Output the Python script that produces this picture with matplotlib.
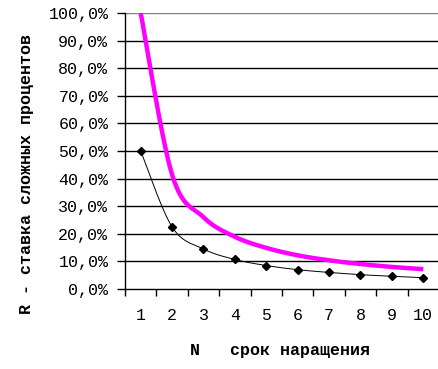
import numpy as np
import matplotlib
matplotlib.use("Agg")
import matplotlib.pyplot as plt
from matplotlib.ticker import FuncFormatter, FixedLocator

# Data
n_values = [1, 2, 3, 4, 5, 6, 7, 8, 9, 10]
rate_black = [50.0, 22.5, 14.5, 10.7, 8.5, 7.0, 6.0, 5.2, 4.6, 4.1]
rate_magenta = [100.0, 41.4, 26.0, 18.9, 14.9, 12.2, 10.4, 9.05, 8.0, 7.2]
y_ticks = [0, 10, 20, 30, 40, 50, 60, 70, 80, 90, 100]


def smooth(x, y, steps=30):
    x = np.asarray(x, float)
    y = np.asarray(y, float)
    xs, ys = [], []
    n = len(x)
    for i in range(n - 1):
        p0 = (x[i - 1], y[i - 1]) if i > 0 else (x[i], y[i])
        p1 = (x[i], y[i])
        p2 = (x[i + 1], y[i + 1])
        p3 = (x[i + 2], y[i + 2]) if i + 2 < n else (x[i + 1], y[i + 1])
        c1 = (p1[0] + (p2[0] - p0[0]) / 6, p1[1] + (p2[1] - p0[1]) / 6)
        c2 = (p2[0] - (p3[0] - p1[0]) / 6, p2[1] - (p3[1] - p1[1]) / 6)
        t = np.linspace(0, 1, steps)
        bx = (1 - t) ** 3 * p1[0] + 3 * (1 - t) ** 2 * t * c1[0] + 3 * (1 - t) * t ** 2 * c2[0] + t ** 3 * p2[0]
        by = (1 - t) ** 3 * p1[1] + 3 * (1 - t) ** 2 * t * c1[1] + 3 * (1 - t) * t ** 2 * c2[1] + t ** 3 * p2[1]
        xs.extend(bx)
        ys.extend(by)
    return np.array(xs), np.array(ys)


fig = plt.figure(figsize=(4.39, 3.69), dpi=100)
ax = fig.add_axes([125 / 439, 1 - 289 / 369, 1 - 125 / 439, (289 - 13) / 369])

mono = "Liberation Mono"

ax.set_xlim(0.5, 10.5)
ax.set_ylim(0, 100)

for v in y_ticks[1:]:
    ax.axhline(v, color="#808080" if v == 100 else "black", lw=1.0, zorder=1)

xs, ys = smooth(n_values, rate_magenta)
ax.plot(xs, ys, color="#FF00FF", lw=3.2, zorder=3, solid_capstyle="butt")
xs, ys = smooth(n_values, rate_black)
ax.plot(xs, ys, color="black", lw=0.7, zorder=4)
ax.plot(n_values, rate_black, ls="none", marker="D", ms=4.5, color="black", zorder=5)

ax.yaxis.set_major_locator(FixedLocator(y_ticks))
ax.yaxis.set_major_formatter(FuncFormatter(lambda v, p: f"{v:.1f}%".replace(".", ",")))
ax.set_xticks(n_values)
ax.set_xticks(np.arange(0.5, 11, 1), minor=True)
ax.tick_params(axis="x", which="major", length=0, pad=14)
ax.tick_params(axis="x", which="minor", length=5, width=1, color="black", direction="out")
ax.tick_params(axis="y", length=6, width=1, direction="out", pad=6)
for lab in ax.get_xticklabels() + ax.get_yticklabels():
    lab.set_fontfamily(mono)
    lab.set_fontsize(12)

for s in ["top", "right"]:
    ax.spines[s].set_visible(False)
for s in ["left", "bottom"]:
    ax.spines[s].set_linewidth(1.0)
    ax.spines[s].set_color("black")

fig.text(27 / 439, 1 - 174 / 369, "R - ставка сложных процентов", rotation=90,
         ha="center", va="center", fontfamily=mono, fontweight="bold", fontsize=12)
fig.text(280 / 439, 1 - 351 / 369, "N   срок наращения",
         ha="center", va="center", fontfamily=mono, fontweight="bold", fontsize=12)

fig.savefig("out.png", dpi=100)
